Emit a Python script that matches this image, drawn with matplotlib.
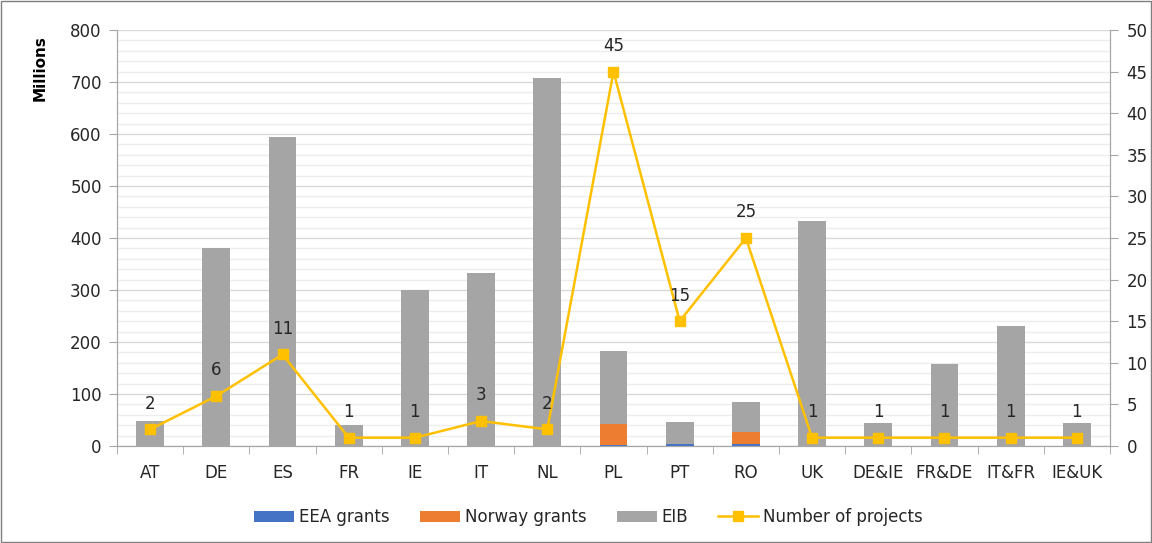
import matplotlib
matplotlib.use("Agg")
import matplotlib.pyplot as plt
from matplotlib.ticker import MultipleLocator
from matplotlib.patches import Rectangle
import numpy as np

plt.rcParams['font.family'] = ['DejaVu Sans']

categories = ["AT", "DE", "ES", "FR", "IE", "IT", "NL", "PL", "PT", "RO", "UK",
              "DE&IE", "FR&DE", "IT&FR", "IE&UK"]
eea_grants = [0, 0, 0, 0, 0, 0, 0, 2, 4, 4, 0, 0, 0, 0, 0]
norway_grants = [0, 0, 0, 0, 0, 0, 0, 40, 0, 23, 0, 0, 0, 0, 0]
eib = [48, 380, 595, 40, 300, 333, 708, 141, 42, 57, 433, 45, 157, 231, 45]
projects = [2, 6, 11, 1, 1, 3, 2, 45, 15, 25, 1, 1, 1, 1, 1]

C_EEA = "#4472C4"
C_NOR = "#ED7D31"
C_EIB = "#A5A5A5"
C_LINE = "#FFC000"
TXT = "#262626"
AXC = "#A6A6A6"

fig = plt.figure(figsize=(11.52, 5.43), dpi=100)
ax = fig.add_axes([0.1016, 0.1786, 0.8619, 0.7662])
ax2 = ax.twinx()

x = np.arange(len(categories))
w = 0.42
eea = np.array(eea_grants)
nor = np.array(norway_grants)
eibv = np.array(eib)
ax.bar(x, eea, w, color=C_EEA, label="EEA grants", zorder=2)
ax.bar(x, nor, w, bottom=eea, color=C_NOR, label="Norway grants", zorder=2)
ax.bar(x, eibv, w, bottom=eea + nor, color=C_EIB, label="EIB", zorder=2)

ax.set_xlim(-0.5, len(categories) - 0.5)
ax.set_ylim(0, 800)
ax.yaxis.set_major_locator(MultipleLocator(100))
ax.yaxis.set_minor_locator(MultipleLocator(20))
ax.grid(axis='y', which='major', color='#D9D9D9', lw=1.0, zorder=0)
ax.grid(axis='y', which='minor', color='#EDEDED', lw=1.0, zorder=0)
ax.set_axisbelow(True)
ax.set_xticks(x)
ax.set_xticklabels(categories)
ax.set_xticks(np.arange(-0.5, len(categories)), minor=True)
ax.tick_params(axis='x', which='major', length=0, pad=13, labelsize=12, labelcolor=TXT)
ax.tick_params(axis='x', which='minor', length=6, color=AXC, direction='out')
ax.tick_params(axis='y', which='major', length=6, color=AXC, labelsize=12, labelcolor=TXT, pad=5)
ax.tick_params(axis='y', which='minor', length=0)
ax.set_ylabel("Millions", fontsize=11, fontweight='bold', color='black')
ax.yaxis.set_label_coords(-0.0695, 0.909)

for s in ['top']:
    ax.spines[s].set_visible(False)
    ax2.spines[s].set_visible(False)
for s in ['left', 'bottom', 'right']:
    ax.spines[s].set_color(AXC)
    ax2.spines[s].set_color(AXC)

ax2.plot(x, projects, color=C_LINE, lw=1.8, marker='s', markersize=7,
         label="Number of projects", zorder=3)
ax2.set_ylim(0, 50)
ax2.yaxis.set_major_locator(MultipleLocator(5))
ax2.tick_params(axis='y', length=6, color=AXC, labelsize=12, labelcolor=TXT, pad=6)
for xi, v in zip(x, projects):
    ax2.annotate(str(v), (xi, v), xytext=(0, 12), textcoords='offset points',
                 ha='center', va='bottom', fontsize=12, color=TXT)

h1, l1 = ax.get_legend_handles_labels()
h2, l2 = ax2.get_legend_handles_labels()
fig.legend(h1 + h2, l1 + l2, loc='center', bbox_to_anchor=(0.511, 0.048), ncol=4,
           frameon=False, fontsize=12, handlelength=2.4, handleheight=0.65,
           columnspacing=1.8, handletextpad=0.3, labelcolor=TXT)

fig.patches.append(Rectangle((0.001, 0.002), 0.998, 0.996, transform=fig.transFigure,
                             fill=False, edgecolor='#7F7F7F', lw=1.0))

fig.savefig("out.png", dpi=100)
